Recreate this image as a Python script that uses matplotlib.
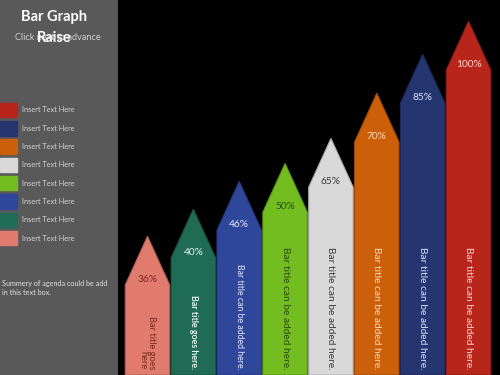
import matplotlib.pyplot as plt
from matplotlib.colors import to_rgb

plt.rcParams['font.family'] = ['Lato', 'DejaVu Sans']

# values as they appear on the slide, left to right
percent_labels = ['36%', '40%', '46%', '50%', '65%', '70%', '85%', '100%']
# bar shoulder heights (tallest bar = 100)
bar_heights = [29.5, 38.4, 47.5, 53.4, 61.6, 76.4, 89.2, 100]
bar_titles = ['Bar title goes\nhere', 'Bar title goes here.',
              'Bar title can be added here.', 'Bar title can be added here.',
              'Bar title can be added here.', 'Bar title can be added here.',
              'Bar title can be added here.', 'Bar title can be added here.']
bar_colors = ['#e07b6e', '#1f6b54', '#2f479b', '#74bd20',
              '#d9d9d9', '#cc5f0a', '#243570', '#b8251a']
text_colors = ['#7a2a20', '#e4f4ec', '#e4e9ff', '#2b4a0a',
               '#3a3a3a', '#ffdcbc', '#dde2f8', '#ffd6cf']
legend_labels = ['Insert Text Here'] * 8

fig = plt.figure(figsize=(5, 3.75), dpi=100)
fig.patch.set_facecolor('#595959')

# bars area
ax = fig.add_axes([118 / 500, 0, 382 / 500, 1])
ax.set_facecolor('black')
ax.set_xlim(-0.643, 7.686)
ax.set_ylim(0, 123)
ax.set_xticks([])
ax.set_yticks([])
for s in ax.spines.values():
    s.set_visible(False)

half = 0.485
tip = 16
title_sizes = [6.7, 6.4, 6.3, 7.3, 7.3, 7.3, 7.3, 7.3]
for i, h in enumerate(bar_heights):
    edge = tuple(c * 0.8 for c in to_rgb(bar_colors[i]))
    ax.fill([i - half, i - half, i, i + half, i + half],
            [0, h, h + tip, h, 0],
            color=bar_colors[i], ec=edge, lw=0.8)
    ax.text(i, h + 1.8, percent_labels[i], ha='center', va='center',
            fontsize=7.3, color=text_colors[i])
    ax.text(i, 1.8, bar_titles[i], rotation=-90, ha='center', va='bottom',
            multialignment='right', fontsize=title_sizes[i],
            fontweight='bold' if i == 1 else 'normal', color=text_colors[i],
            linespacing=1.0)

# left panel
axl = fig.add_axes([0, 0, 118 / 500, 1])
axl.set_xlim(0, 118)
axl.set_ylim(375, 0)
axl.axis('off')

axl.text(58, 38, 'Click next to advance', ha='center', va='center',
         fontsize=6.6, color='#d0d0d0', zorder=1)
axl.text(54, 17, 'Bar Graph', ha='center', va='center', fontsize=10.5,
         fontweight='bold', color='white', zorder=2)
axl.text(54, 38, 'Raise', ha='center', va='center', fontsize=10.5,
         fontweight='bold', color='white', zorder=2)

for k, (lab, col) in enumerate(zip(legend_labels, bar_colors[::-1])):
    y = 110 + k * 18.3
    axl.add_patch(plt.Rectangle((0, y - 7.3), 16.5, 14.6, color=col))
    axl.text(22, y, lab, ha='left', va='center', fontsize=5.3,
             color='#d4d4d4')

axl.text(2, 288, 'Summery of agenda could be add\nin this text box.',
         ha='left', va='center', fontsize=5.2, color='#e0e0e0',
         linespacing=1.4)

fig.savefig('out.png', dpi=100, facecolor=fig.get_facecolor())
